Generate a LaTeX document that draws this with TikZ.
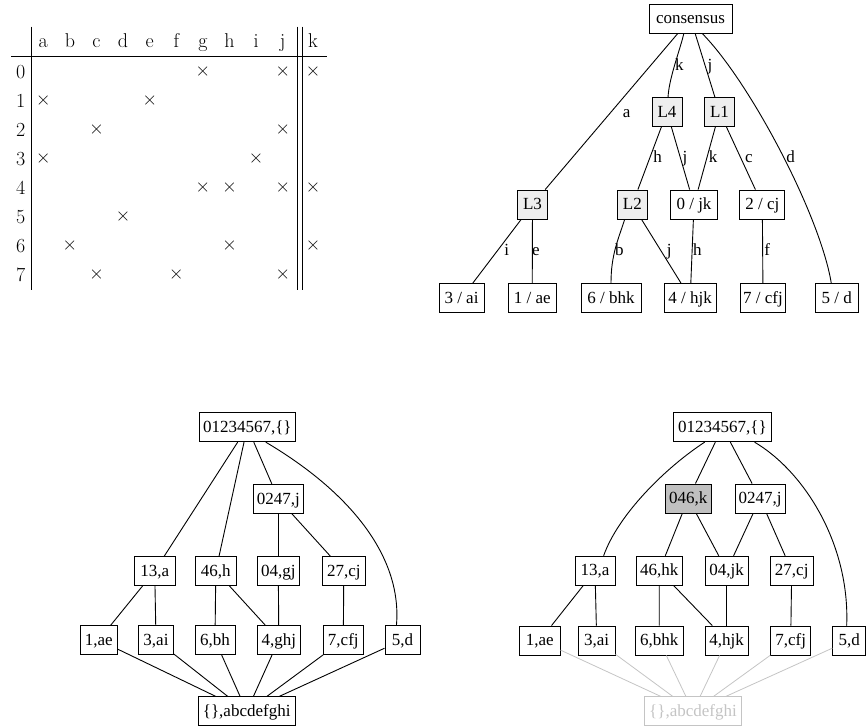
\documentclass[tikz,border=0pt]{standalone}
\usepackage{fontspec}
\newfontfamily\gvfont{Liberation Serif}
\definecolor{lfill}{HTML}{EEEEEE}
\definecolor{kfill}{HTML}{C0C0C0}
\definecolor{faint}{HTML}{C4C4C4}
\tikzset{
  gbox/.style={draw, line width=0.9pt, rectangle, minimum height=29pt, inner xsep=1pt, inner ysep=0pt,
    text height=11.5pt, text depth=1pt, font=\gvfont\fontsize{17}{20}\selectfont},
  gedge/.style={line width=0.9pt},
  fedge/.style={line width=0.8pt, draw=faint},
  elab/.style={font=\gvfont\fontsize{17}{20}\selectfont, inner sep=0pt, anchor=base},
  thead/.style={font=\fontsize{20}{24}\selectfont, inner sep=0pt, anchor=base},
  tcell/.style={font=\fontsize{20}{24}\selectfont, inner sep=0pt},
  tline/.style={line width=0.8pt}
}
\begin{document}
\begin{tikzpicture}[x=1pt,y=-1pt]
\useasboundingbox (0,0) rectangle (867,727);

% ---------------- table ----------------
\foreach \l [count=\i from 0] in {a,b,c,d,e,f,g,h,i,j}
  \node[thead] (h\l) at (43.3+26.6*\i,47.5) {\l};
\node[thead] (hk) at (313,47.5) {k};
\foreach \r in {0,...,7}
  \node[tcell] (r\r) at (20.7,71.7+29*\r) {\r};
\foreach \l/\r in {g/0,j/0,k/0,a/1,e/1,c/2,j/2,a/3,i/3,g/4,h/4,j/4,k/4,d/5,b/6,h/6,k/6,c/7,f/7,j/7}
  \node[tcell] (x\l\r) at (h\l |- r\r) {×};
\draw[tline] (31,26.7) -- (31,290);
\draw[tline] (11,56) -- (327,56);
\draw[tline] (297.5,26.7) -- (297.5,290);
\draw[tline] (302,26.7) -- (302,290);

% ---------------- consensus tree ----------------
\node[gbox,minimum width=83pt] (cons) at (690.5,18.5) {consensus};
\node[gbox,fill=lfill,minimum width=30pt] (L4) at (667,112) {L4};
\node[gbox,fill=lfill,minimum width=30pt] (L1) at (719.5,112) {L1};
\node[gbox,fill=lfill,minimum width=30pt] (L3) at (532.5,204.5) {L3};
\node[gbox,fill=lfill,minimum width=30pt] (L2) at (632.3,204.5) {L2};
\node[gbox,minimum width=47pt] (j0) at (694,204.5) {0 / jk};
\node[gbox,minimum width=45pt] (j2) at (762.3,204.5) {2 / cj};
\node[gbox,minimum width=45pt] (t3) at (461.5,298) {3 / ai};
\node[gbox,minimum width=48pt] (t1) at (532.2,298) {1 / ae};
\node[gbox,minimum width=60pt] (t6) at (611,298) {6 / bhk};
\node[gbox,minimum width=51.5pt] (t4) at (690.2,298) {4 / hjk};
\node[gbox,minimum width=44.5pt] (t7) at (763,298) {7 / cfj};
\node[gbox,minimum width=43pt] (t5) at (836.7,298) {5 / d};

\draw[gedge] (cons.-114) .. controls (680,50) and (669,78) .. (L4.86);
\draw[gedge] (cons) -- (L1);
\draw[gedge] (cons) -- (L3);
\draw[gedge] (cons.-52) .. controls (750,82) and (820,215) .. (t5.110);
\draw[gedge] (L4) -- (L2);
\draw[gedge] (L4) -- (j0);
\draw[gedge] (L1) -- (j0);
\draw[gedge] (L1) -- (j2);
\draw[gedge] (L3) -- (t3);
\draw[gedge] (L3) -- (t1);
\draw[gedge] (L2.-117) .. controls (618,240) and (611,255) .. (t6.north);
\draw[gedge] (L2) -- (t4);
\draw[gedge] (j0) -- (t4);
\draw[gedge] (j2) -- (t7);

\node[elab] (lk1) at (679.3,70.7) {k};
\node[elab] (lj1) at (710,70.7) {j};
\node[elab] (la1) at (626.7,117.3) {a};
\node[elab] (ld1) at (790.5,163) {d};
\node[elab] (lh1) at (657.7,163) {h};
\node[elab] (lj2) at (685,163) {j};
\node[elab] (lk2) at (713,163) {k};
\node[elab] (lc1) at (749,163) {c};
\node[elab] (li1) at (506.7,256) {i};
\node[elab] (le1) at (536,256) {e};
\node[elab] (lb1) at (619.3,256) {b};
\node[elab] (lj3) at (669.3,256) {j};
\node[elab] (lh2) at (697.3,256) {h};
\node[elab] (lf1) at (767.3,256) {f};

% ---------------- left lattice ----------------
\node[gbox,minimum width=96.5pt] (topL) at (247.3,427.2) {01234567,\{\}};
\node[gbox,minimum width=50pt] (jL) at (278.3,498.8) {0247,j};
\node[gbox,minimum width=40.5pt] (aL) at (154.7,571) {13,a};
\node[gbox,minimum width=41.5pt] (hL) at (215.8,571) {46,h};
\node[gbox,minimum width=41.3pt] (gjL) at (278.3,571) {04,gj};
\node[gbox,minimum width=42.3pt] (cjL) at (343.8,571) {27,cj};
\node[gbox,minimum width=37.3pt] (aeL) at (98.7,640) {1,ae};
\node[gbox,minimum width=35pt] (aiL) at (156,640) {3,ai};
\node[gbox,minimum width=40pt] (bhL) at (215,640) {6,bh};
\node[gbox,minimum width=42.3pt] (ghjL) at (278.8,640) {4,ghj};
\node[gbox,minimum width=40pt] (cfjL) at (343.3,640) {7,cfj};
\node[gbox,minimum width=35pt] (dL) at (402.5,640) {5,d};
\node[gbox,minimum width=96.5pt] (botL) at (246.7,711.3) {\{\},abcdefghi};

\draw[gedge] (topL) -- (aL);
\draw[gedge] (topL) -- (hL);
\draw[gedge] (topL) -- (jL);
\draw[gedge] (topL.-39) .. controls (355,495) and (402,560) .. (dL.112);
\draw[gedge] (jL) -- (gjL);
\draw[gedge] (jL) -- (cjL);
\draw[gedge] (aL) -- (aeL);
\draw[gedge] (aL) -- (aiL);
\draw[gedge] (hL) -- (bhL);
\draw[gedge] (hL) -- (ghjL);
\draw[gedge] (gjL) -- (ghjL);
\draw[gedge] (cjL) -- (cfjL);
\foreach \n in {aeL,aiL,bhL,ghjL,cfjL,dL}
  \draw[gedge] (\n) -- (botL);

% ---------------- right lattice ----------------
\node[gbox,minimum width=98pt] (topR) at (722.5,427.2) {01234567,\{\}};
\node[gbox,fill=kfill,minimum width=46.7pt] (kR) at (688.3,498.5) {046,k};
\node[gbox,minimum width=50pt] (jR) at (760,498.5) {0247,j};
\node[gbox,minimum width=40pt] (aR) at (595,570.7) {13,a};
\node[gbox,minimum width=46.7pt] (hkR) at (659.3,570.7) {46,hk};
\node[gbox,minimum width=43.3pt] (jkR) at (726.7,570.7) {04,jk};
\node[gbox,minimum width=43.3pt] (cjR) at (791.7,570.7) {27,cj};
\node[gbox,minimum width=40.7pt] (aeR) at (539.7,640.5) {1,ae};
\node[gbox,minimum width=36.7pt] (aiR) at (596.7,640.5) {3,ai};
\node[gbox,minimum width=48.3pt] (bhkR) at (659.2,640.5) {6,bhk};
\node[gbox,minimum width=43.3pt] (hjkR) at (726.7,640.5) {4,hjk};
\node[gbox,minimum width=40pt] (cfjR) at (790.7,640.5) {7,cfj};
\node[gbox,minimum width=33pt] (dR) at (849.3,640.5) {5,d};
\node[gbox,draw=faint,text=faint,line width=0.8pt,minimum width=97pt] (botR) at (693,711.3) {\{\},abcdefghi};

\draw[gedge] (topR.-140) .. controls (665,468) and (618,515) .. (aR.60);
\draw[gedge] (topR) -- (kR);
\draw[gedge] (topR) -- (jR);
\draw[gedge] (topR.-25) .. controls (805,472) and (850,545) .. (dR.100);
\draw[gedge] (kR) -- (hkR);
\draw[gedge] (kR) -- (jkR);
\draw[gedge] (jR) -- (jkR);
\draw[gedge] (jR) -- (cjR);
\draw[gedge] (aR) -- (aeR);
\draw[gedge] (aR) -- (aiR);
\draw[gedge] (hkR) -- (bhkR);
\draw[gedge] (hkR) -- (hjkR);
\draw[gedge] (jkR) -- (hjkR);
\draw[gedge] (cjR) -- (cfjR);
\foreach \n in {aeR,aiR,bhkR,hjkR,cfjR,dR}
  \draw[fedge] (\n) -- (botR);
\end{tikzpicture}
\end{document}
